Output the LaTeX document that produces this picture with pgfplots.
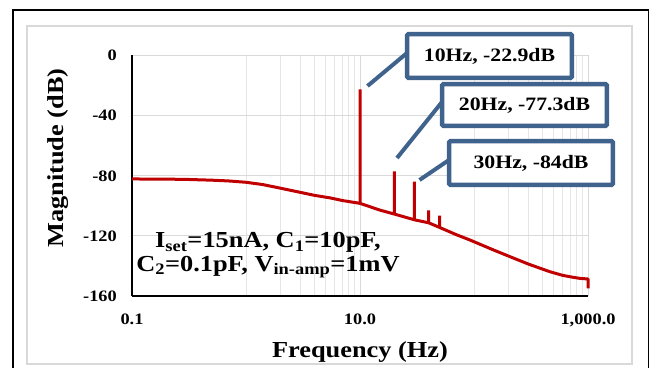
\documentclass[border=0pt]{standalone}
\usepackage{fontspec}
\setmainfont{Liberation Serif}[FakeStretch=1.15]
\usepackage{pgfplots}
\pgfplotsset{compat=1.18}
\definecolor{curvered}{RGB}{192,0,0}
\definecolor{boxblue}{RGB}{64,99,142}
\definecolor{gridmaj}{RGB}{217,217,217}
\definecolor{gridmin}{RGB}{230,230,230}
\begin{document}
\begin{tikzpicture}
\useasboundingbox (0,0) rectangle (650bp,-368bp);
\clip (0,0) rectangle (650bp,-368bp);
\begin{scope}[x=1bp,y=-1bp]
\fill[white] (0,0) rectangle (650,368);
\draw[gridmaj, line width=1.5bp] (27,26) rectangle (632,364);
\draw[black, line width=1.8bp] (13,10) rectangle (648.5,400);
\end{scope}
\begin{axis}[
  at={(132bp,-296bp)}, anchor=south west,
  scale only axis, width=456bp, height=241bp,
  xmode=log, log basis x=10,
  xmin=0.1, xmax=1000, ymin=-160, ymax=0,
  xtick={0.1,10,1000}, xticklabels={0.1,10.0,{1,000.0}},
  minor xtick={1,2,3,4,5,6,7,8,9,100,200,300,400,500,600,700,800,900},
  ytick={-160,-120,-80,-40,0}, yticklabels={-160,-120,-80,-40,0},
  grid=both,
  major grid style={gridmaj, line width=1bp},
  minor grid style={gridmin, line width=1bp},
  major tick length=0pt, minor tick length=0pt,
  axis x line*=bottom, axis y line*=left,
  axis line style={black, line width=2bp},
  ticklabel style={font=\fontsize{16}{19}\selectfont\bfseries, inner sep=0pt},
  xticklabel style={anchor=base, yshift=-28.5bp},
  yticklabel style={anchor=base east, xshift=-15bp, yshift=-5.5bp},
  /pgf/number format/assume math mode=true,
  clip=false,
]
\addplot[curvered, line width=3bp, line join=bevel, mark=none] coordinates {
(0.1,-82.3) (0.2,-82.4) (0.3,-82.6) (0.5,-83.1) (0.7,-83.6) (1,-84.5)
(1.4,-86) (2,-88.4) (3,-91.2) (4,-93.2) (5.5,-94.9) (7,-96.6)
(10,-98.5) (10,-22.9) (10,-98.5)
(15,-103)
(20,-105.6) (20,-77.3) (20,-105.6)
(30,-109.4) (30,-84) (30,-109.4)
(40,-111.4) (40,-103.2) (40,-111.4)
(50,-114.5) (50,-106.7) (50,-114.5)
(70,-119.3) (92,-122.8) (150,-129.6) (207,-133.9) (300,-138.8)
(464,-143.9) (600,-146.3) (741,-147.6) (850,-148.3)
(1000,-148.7) (1000,-155)
};
\end{axis}
\begin{scope}[x=1bp,y=-1bp]
\node[rotate=90, anchor=base, inner sep=0pt, font=\fontsize{23}{27}\selectfont\bfseries] at (63,158) {Magnitude (dB)};
\node[anchor=base, inner sep=0pt, font=\fontsize{23}{27}\selectfont\bfseries] at (360,357) {Frequency (Hz)};
\node[anchor=base, inner sep=0pt, font=\fontsize{23}{27}\selectfont\bfseries] at (268,247.5) {I\textsubscript{set}=15nA, C\textsubscript{1}=10pF,};
\node[anchor=base, inner sep=0pt, font=\fontsize{23}{27}\selectfont\bfseries] at (268,271) {C\textsubscript{2}=0.1pF, V\textsubscript{in-amp}=1mV};
\draw[boxblue, line width=4bp] (367.5,86) -- (407,53);
\draw[boxblue, line width=4bp] (397,158) -- (442,102);
\draw[boxblue, line width=4bp] (419.5,180) -- (449,160);
\node[draw=boxblue, line width=4.5bp, fill=white, rounded corners=1bp, minimum width=164.5bp, minimum height=43.5bp, inner sep=0pt, font=\fontsize{19}{22}\selectfont\bfseries] at (489.5,56) {10Hz, -22.9dB};
\node[draw=boxblue, line width=4.5bp, fill=white, rounded corners=1bp, minimum width=164.5bp, minimum height=41.5bp, inner sep=0pt, font=\fontsize{19}{22}\selectfont\bfseries] at (524.5,105) {20Hz, -77.3dB};
\node[draw=boxblue, line width=4.5bp, fill=white, rounded corners=1bp, minimum width=163.5bp, minimum height=43.5bp, inner sep=0pt, font=\fontsize{19}{22}\selectfont\bfseries] at (531,163) {30Hz, -84dB};
\end{scope}
\end{tikzpicture}
\end{document}
